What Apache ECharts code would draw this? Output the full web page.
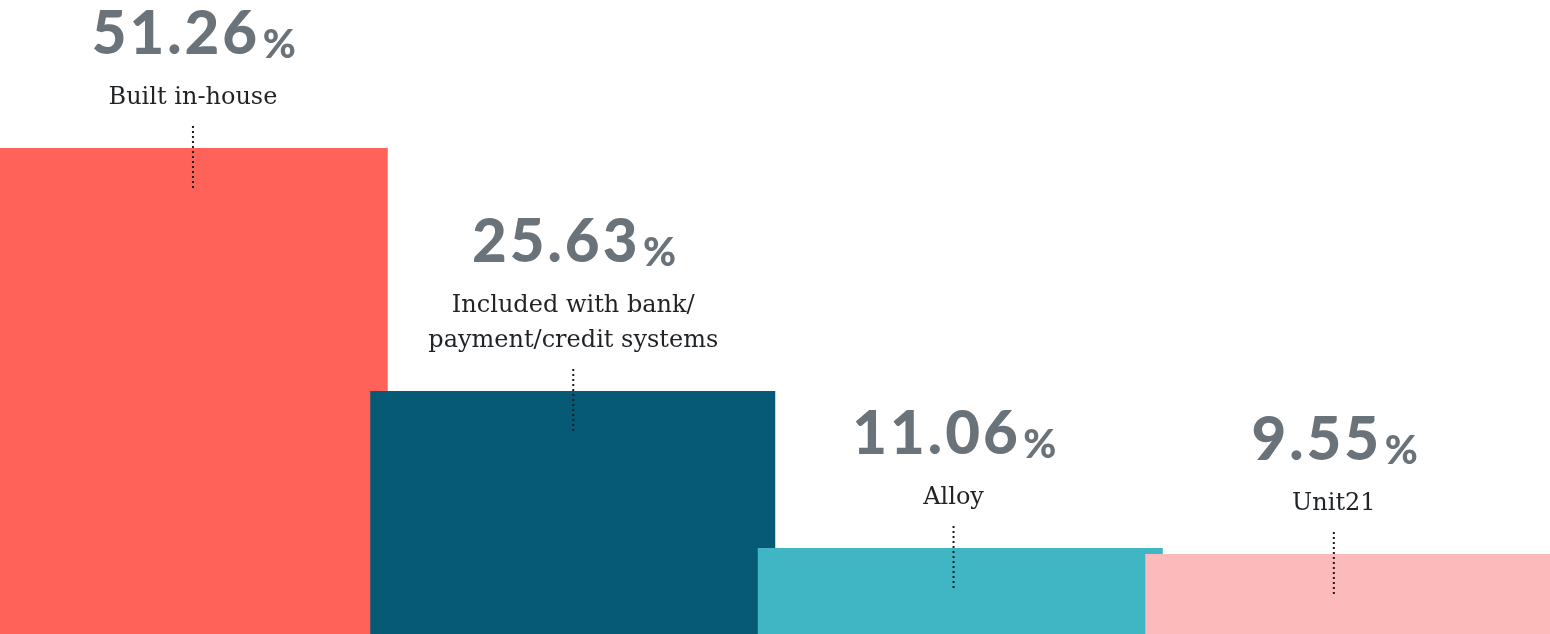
<!DOCTYPE html>
<html>
<head>
<meta charset="utf-8">
<script src="https://cdn.jsdelivr.net/npm/echarts@6/dist/echarts.min.js"></script>
<style>
html,body{margin:0;padding:0;background:#fff;}
#chart{width:1550px;height:634px;}
</style>
</head>
<body>
<div id="chart"></div>
<script>
// ---- data ----
var categories = ['Built in-house', 'Included with bank/\npayment/credit systems', 'Alloy', 'Unit21'];
var shares = [51.26, 25.63, 11.06, 9.55];          // printed values (%)
var barHeights = [51.26, 25.63, 9.07, 8.44];       // bar lengths as drawn (% units)
var colors = ['#FF6259', '#065A76', '#40B5C3', '#FDBABA'];

var chart = echarts.init(document.getElementById('chart'), null, {renderer: 'canvas'});

var CAT_LH = 35;

function spaced(str) {
  return str.split('').map(function (c) { return '{d|' + c + '}'; }).join('');
}

var option = {
  animation: false,
  backgroundColor: '#ffffff',
  grid: [
    {left: 0, right: 0, top: 148, bottom: 0},
    {left: 2.8, right: 26, top: 148, bottom: 0}
  ],
  xAxis: [
    {type: 'category', gridIndex: 0, data: categories, show: false},
    {type: 'category', gridIndex: 1, data: categories, show: false}
  ],
  yAxis: [
    {type: 'value', gridIndex: 0, min: 0, max: 'dataMax', show: false},
    {type: 'value', gridIndex: 1, min: 0, max: 'dataMax', show: false}
  ],
  series: [
    {
      type: 'bar',
      xAxisIndex: 0, yAxisIndex: 0,
      barWidth: 405,
      barGap: '0%',
      data: barHeights.map(function (v, i) {
        return {value: v, itemStyle: {color: colors[i]}};
      }),
      z: 2
    },
    {
      // spacer: shifts the visible bars left inside each band
      type: 'bar',
      xAxisIndex: 0, yAxisIndex: 0,
      barWidth: 17,
      barGap: '0%',
      silent: true,
      data: categories.map(function () { return null; }),
      itemStyle: {color: 'transparent'}
    },
    {
      type: 'custom',
      xAxisIndex: 1, yAxisIndex: 1,
      z: 10,
      clip: false,
      data: barHeights.map(function (v, i) { return [i, v]; }),
      renderItem: function (params, api) {
        var i = api.value(0);
        var p = api.coord([i, api.value(1)]);
        var x = p[0], y = p[1];
        var lines = categories[i].split('\n').length;
        var catBottom = y - 32.5;
        var numBaseline = y - 92 - CAT_LH * (lines - 1);
        var numBottom = numBaseline + 9;
        return {
          type: 'group',
          children: [
            {
              type: 'line',
              shape: {x1: x, y1: y - 22, x2: x, y2: y + 40},
              style: {stroke: '#1c1c1c', lineWidth: 2, lineDash: [2, 3]}
            },
            {
              type: 'text',
              x: x, y: catBottom,
              style: {
                text: categories[i],
                font: '24px "DejaVu Serif", serif',
                fill: '#1f2326',
                align: 'center',
                verticalAlign: 'bottom',
                lineHeight: CAT_LH
              }
            },
            {
              type: 'text',
              x: x, y: numBottom,
              style: {
                text: spaced(shares[i].toFixed(2)) + '{p|%}',
                align: 'center',
                verticalAlign: 'bottom',
                rich: {
                  d: {font: '900 60px Lato, sans-serif', fill: '#6A737A', lineHeight: 60, verticalAlign: 'bottom', padding: [0, 1.5, 0, 1.5]},
                  p: {font: '900 40px Lato, sans-serif', fill: '#6A737A', lineHeight: 60, verticalAlign: 'bottom', padding: [0, 0, 0, 4]}
                }
              }
            }
          ]
        };
      }
    }
  ]
};
chart.setOption(option);
</script>
</body>
</html>
